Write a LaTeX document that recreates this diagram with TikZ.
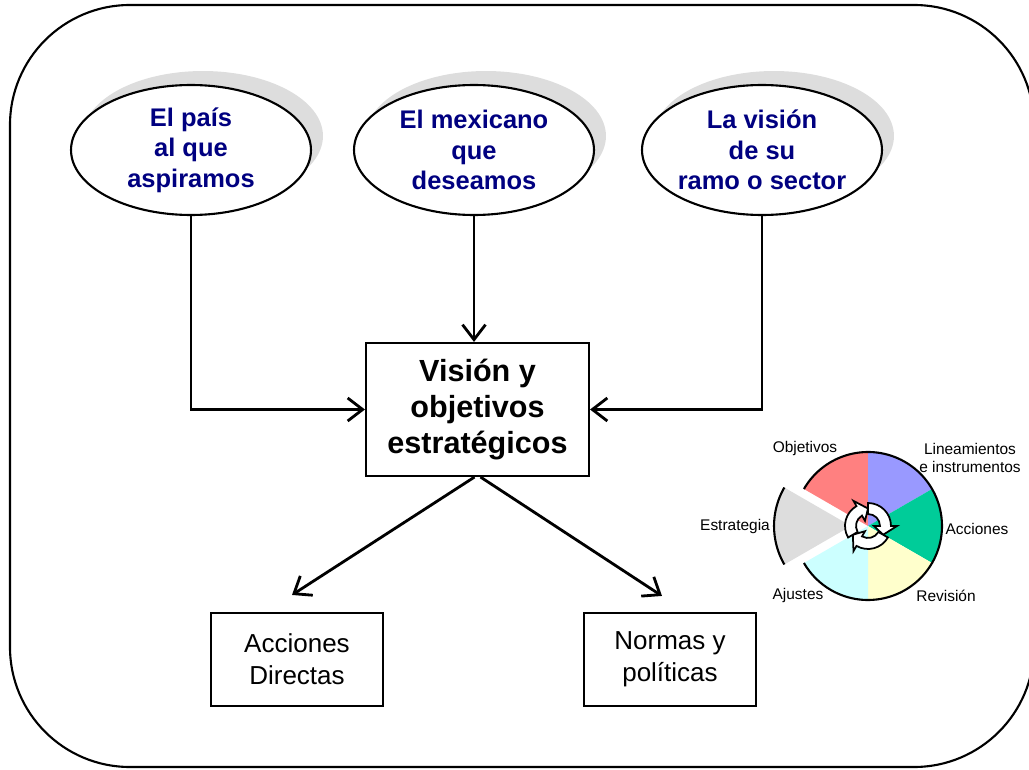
\documentclass[tikz,border=0pt]{standalone}
\usepackage{fontspec}
\setmainfont{Liberation Sans}
\usetikzlibrary{shapes.geometric,shadows,arrows.meta}

\definecolor{navytext}{RGB}{0,0,128}
\definecolor{shadowgray}{RGB}{221,221,221}
\definecolor{objred}{RGB}{255,128,128}
\definecolor{linblue}{RGB}{153,153,255}
\definecolor{accgreen}{RGB}{0,204,153}
\definecolor{revyellow}{RGB}{255,255,204}
\definecolor{ajucyan}{RGB}{204,255,255}
\definecolor{estgray}{RGB}{221,221,221}

\tikzset{
  meta/.style={ellipse, draw, line width=1.2pt, fill=white,
    minimum width=4.8cm, minimum height=2.6cm, inner sep=0pt, align=center,
    text=navytext, font=\bfseries\fontsize{14.5}{17.3}\selectfont,
    drop shadow={shadow xshift=0.24cm, shadow yshift=0.28cm, fill=shadowgray, opacity=1}},
  mainbox/.style={draw, line width=1.2pt, minimum width=4.46cm, minimum height=2.66cm,
    align=center, font=\bfseries\fontsize{17.4}{20.4}\selectfont},
  outbox/.style={draw, line width=1.2pt, minimum width=3.44cm, minimum height=1.86cm,
    align=center, font=\fontsize{14.8}{18}\selectfont},
  link/.style={line width=1.6pt, -{Straight Barb[length=3mm,width=4.6mm]}},
  pielabel/.style={inner sep=0pt, align=center, font=\fontsize{8.8}{10.5}\selectfont}
}

\begin{document}
\begin{tikzpicture}[x=0.02cm,y=0.02cm]

    \useasboundingbox (0,0) rectangle (1029,769);
    \draw [line width=1.2pt, rounded corners=2.4cm] (10,2) rectangle (1034,764);

    % the three visions
    \node [meta] (pais) at (191,619) {El país\\al que\\aspiramos};
    \node [meta] (mex) at (474,619) {El mexicano\\que\\deseamos};
    \node [meta] (sector) at (762,619) {La visión\\de su\\ramo o sector};

    \node [mainbox] (vis) at (477.5,359.5) {Visión y\\objetivos\\estratégicos};

    \node [outbox] (acc) at (297,109.5) {Acciones\\Directas};
    \node [outbox] (norm) at (670,109.5) {Normas y\\políticas};

    \draw [link] (pais) |- (vis);
    \draw [link] (mex) -- (mex |- vis.north);
    \draw [link] (sector) |- (vis);

    \draw [link] ([xshift=-0.06cm]vis.south) -- ([shift={(-0.1cm,0.34cm)}]acc.north);
    \draw [link] ([xshift=0.06cm]vis.south) -- ([shift={(-0.16cm,0.32cm)}]norm.north);

    % cycle pie
    \begin{scope}[shift={(868,243)}]
        \foreach \a/\c in {90/objred, 30/linblue, -30/accgreen, -90/revyellow, -150/ajucyan}
            \fill [\c] (0,0) -- (\a:1.48cm) arc [start angle=\a, end angle=\a+60, radius=1.48cm] -- cycle;
        \draw [line width=1.2pt] (150:1.48cm) arc [start angle=150, end angle=-150, radius=1.48cm];

        \fill [estgray] (-0.34cm,0) -- ++(150:1.54cm) arc [start angle=150, end angle=210, radius=1.54cm] -- cycle;
        \draw [line width=1.2pt] (-0.34cm,0) ++(150:1.54cm) arc [start angle=150, end angle=210, radius=1.54cm];

        \foreach \s [evaluate=\s as \e using \s-90, evaluate=\s as \t using \s-120] in {90,-30,210}
            \filldraw [fill=white, line width=1pt]
                (\s:0.46cm) arc [start angle=\s, end angle=\e, radius=0.46cm]
                -- (\e:0.58cm) -- (\t:0.35cm) -- (\e:0.12cm) -- (\e:0.24cm)
                arc [start angle=\e, end angle=\s, radius=0.24cm] -- cycle;
    \end{scope}

    \node [pielabel] (lobj) at (805,320) {Objetivos};
    \node [pielabel] (llin) at (970,311) {Lineamientos\\e instrumentos};
    \node [pielabel] (lacc) at (977,240) {Acciones};
    \node [pielabel] (lrev) at (946,173) {Revisión};
    \node [pielabel] (laju) at (798,173) {Ajustes};
    \node [pielabel] (lest) at (735,242) {Estrategia};

\end{tikzpicture}
\end{document}
